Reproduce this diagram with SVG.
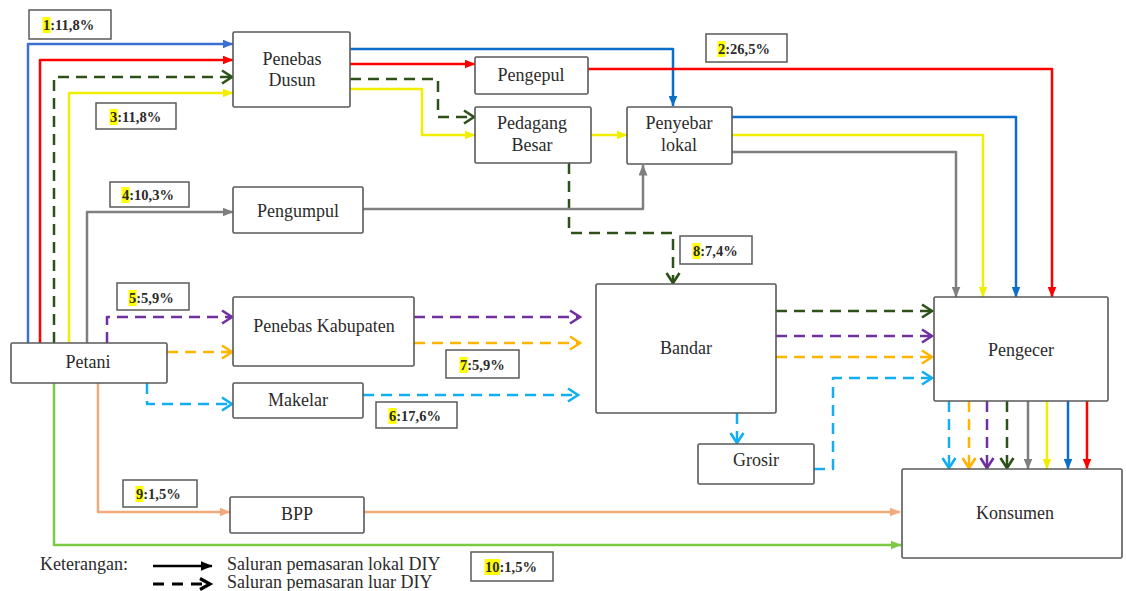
<svg xmlns="http://www.w3.org/2000/svg" width="1126" height="591" viewBox="0 0 1126 591">
<style>
.box{fill:#fff;stroke:#595959;stroke-width:1.6}
.nt{font-family:"Liberation Serif","Times New Roman",serif;font-size:18px;fill:#2b2b2b;text-anchor:middle}
.lg{font-family:"Liberation Serif","Times New Roman",serif;font-size:18px;fill:#2b2b2b}
.lb{font-family:"Liberation Serif","Times New Roman",serif;font-size:14.5px;font-weight:bold;fill:#2b2b2b}
.lbox{fill:#fff;stroke:#595959;stroke-width:1.5}
.hl{fill:#ffff00}
.c{fill:none;stroke-width:2.5;stroke-linejoin:round}
.d{stroke-dasharray:11 7}
.b1{stroke:#3b70d0;marker-end:url(#tb1)}
.b2{stroke:#0b6ec8;marker-end:url(#tb2)}
.r{stroke:#ff0000;marker-end:url(#tr)}
.y{stroke:#f2ee00;marker-end:url(#ty)}
.g{stroke:#7f7f7f;marker-end:url(#tg)}
.pc{stroke:#f4a97c;marker-end:url(#tp)}
.gr{stroke:#7cc944;marker-end:url(#tgr)}
.dg{stroke:#2c5219;marker-end:url(#cdg)}
.pu{stroke:#7030a0;marker-end:url(#cpu)}
.or{stroke:#ffb400;marker-end:url(#cor)}
.lbl{stroke:#12aef0;marker-end:url(#clb)}
</style>
<defs>
<marker id="tb1" markerUnits="userSpaceOnUse" viewBox="0 0 11 9" markerWidth="11" markerHeight="9" refX="10.5" refY="4.5" orient="auto"><path d="M0,0 L11,4.5 L0,9 z" fill="#3b70d0"/></marker>
<marker id="tb2" markerUnits="userSpaceOnUse" viewBox="0 0 11 9" markerWidth="11" markerHeight="9" refX="10.5" refY="4.5" orient="auto"><path d="M0,0 L11,4.5 L0,9 z" fill="#0b6ec8"/></marker>
<marker id="tr" markerUnits="userSpaceOnUse" viewBox="0 0 11 9" markerWidth="11" markerHeight="9" refX="10.5" refY="4.5" orient="auto"><path d="M0,0 L11,4.5 L0,9 z" fill="#ff0000"/></marker>
<marker id="ty" markerUnits="userSpaceOnUse" viewBox="0 0 11 9" markerWidth="11" markerHeight="9" refX="10.5" refY="4.5" orient="auto"><path d="M0,0 L11,4.5 L0,9 z" fill="#f2ee00"/></marker>
<marker id="tg" markerUnits="userSpaceOnUse" viewBox="0 0 11 9" markerWidth="11" markerHeight="9" refX="10.5" refY="4.5" orient="auto"><path d="M0,0 L11,4.5 L0,9 z" fill="#7f7f7f"/></marker>
<marker id="tp" markerUnits="userSpaceOnUse" viewBox="0 0 11 9" markerWidth="11" markerHeight="9" refX="10.5" refY="4.5" orient="auto"><path d="M0,0 L11,4.5 L0,9 z" fill="#f4a97c"/></marker>
<marker id="tgr" markerUnits="userSpaceOnUse" viewBox="0 0 11 9" markerWidth="11" markerHeight="9" refX="10.5" refY="4.5" orient="auto"><path d="M0,0 L11,4.5 L0,9 z" fill="#7cc944"/></marker>
<marker id="tk" markerUnits="userSpaceOnUse" viewBox="0 0 12 10" markerWidth="12" markerHeight="10" refX="11.5" refY="5" orient="auto"><path d="M0,0 L12,5 L0,10 z" fill="#000"/></marker>
<marker id="cdg" markerUnits="userSpaceOnUse" viewBox="-2 -2 14 17" markerWidth="14" markerHeight="17" refX="10" refY="6.5" orient="auto" overflow="visible"><path d="M0,0 L10,6.5 L0,13" fill="none" stroke="#2c5219" stroke-width="2.6"/></marker>
<marker id="cpu" markerUnits="userSpaceOnUse" viewBox="-2 -2 14 17" markerWidth="14" markerHeight="17" refX="10" refY="6.5" orient="auto" overflow="visible"><path d="M0,0 L10,6.5 L0,13" fill="none" stroke="#7030a0" stroke-width="2.6"/></marker>
<marker id="cor" markerUnits="userSpaceOnUse" viewBox="-2 -2 14 17" markerWidth="14" markerHeight="17" refX="10" refY="6.5" orient="auto" overflow="visible"><path d="M0,0 L10,6.5 L0,13" fill="none" stroke="#ffb400" stroke-width="2.6"/></marker>
<marker id="clb" markerUnits="userSpaceOnUse" viewBox="-2 -2 14 17" markerWidth="14" markerHeight="17" refX="10" refY="6.5" orient="auto" overflow="visible"><path d="M0,0 L10,6.5 L0,13" fill="none" stroke="#12aef0" stroke-width="2.6"/></marker>
<marker id="ck" markerUnits="userSpaceOnUse" viewBox="-2 -2 14 15" markerWidth="14" markerHeight="15" refX="10" refY="5.5" orient="auto" overflow="visible"><path d="M0,0 L10,5.5 L0,11" fill="none" stroke="#000" stroke-width="3.2"/></marker>
</defs>

<g id="connectors">
<path class="c b1" d="M28,343 V44 H233"/>
<path class="c r" d="M40,343 V60 H233"/>
<path class="c d dg" d="M54,343 V77 H232"/>
<path class="c y" d="M69,343 V93 H233"/>
<path class="c g" d="M87,343 V212 H233"/>
<path class="c d pu" d="M107,343 V317 H232"/>
<path class="c d or" d="M167,352 H232"/>
<path class="c d lbl" d="M147,383 V404 H232"/>
<path class="c pc" d="M98,383 V512 H230"/>
<path class="c gr" d="M54,383 V545 H901"/>
<path class="c b2" d="M350,49 H673 V106"/>
<path class="c r" d="M350,64 H475"/>
<path class="c d dg" d="M350,79 H438 V117 H474"/>
<path class="c y" d="M350,89 H422 V135 H475"/>
<path class="c r" d="M588,69 H1052 V297"/>
<path class="c y" d="M591,135 H627"/>
<path class="c d dg" d="M569,163 V233 H673 V283"/>
<path class="c g" d="M363,209 H643 V165"/>
<path class="c b2" d="M732,117 H1016 V297"/>
<path class="c y" d="M732,135 H983 V297"/>
<path class="c g" d="M732,152 H956 V297"/>
<path class="c d pu" d="M414,317 H580"/>
<path class="c d or" d="M414,343 H580"/>
<path class="c d lbl" d="M363,395 H578"/>
<path class="c d dg" d="M776,311 H932"/>
<path class="c d pu" d="M776,336 H932"/>
<path class="c d or" d="M776,357 H932"/>
<path class="c d lbl" d="M737,413 V443"/>
<path class="c d lbl" d="M814,469 H833 V378 H932"/>
<path class="c pc" d="M364,512 H900"/>
<path class="c d lbl" d="M949,401 V468"/>
<path class="c d or" d="M969,401 V468"/>
<path class="c d pu" d="M987,401 V468"/>
<path class="c d dg" d="M1007,401 V468"/>
<path class="c g" d="M1028,401 V469"/>
<path class="c y" d="M1047,401 V469"/>
<path class="c b2" d="M1068,401 V469"/>
<path class="c r" d="M1087,401 V469"/>
</g>

<g id="petani"><rect class="box" x="11" y="343" width="156" height="40" rx="1.5"/><text class="nt" x="88" y="368">Petani</text></g>
<g id="penebas-dusun"><rect class="box" x="233" y="32" width="117" height="75" rx="1.5"/><text class="nt" x="292" y="65">Penebas</text><text class="nt" x="292" y="86">Dusun</text></g>
<g id="pengepul"><rect class="box" x="475" y="57" width="113" height="37" rx="1.5"/><text class="nt" x="531" y="81">Pengepul</text></g>
<g id="pedagang-besar"><rect class="box" x="475" y="107" width="116" height="56" rx="1.5"/><text class="nt" x="532" y="129">Pedagang</text><text class="nt" x="532" y="151">Besar</text></g>
<g id="penyebar-lokal"><rect class="box" x="627" y="107" width="105" height="57" rx="1.5"/><text class="nt" x="679" y="129">Penyebar</text><text class="nt" x="679" y="151">lokal</text></g>
<g id="pengumpul"><rect class="box" x="233" y="187" width="130" height="46" rx="1.5"/><text class="nt" x="298" y="217">Pengumpul</text></g>
<g id="penebas-kabupaten"><rect class="box" x="233" y="297" width="181" height="69" rx="1.5"/><text class="nt" x="324" y="332">Penebas Kabupaten</text></g>
<g id="makelar"><rect class="box" x="233" y="383" width="130" height="35" rx="1.5"/><text class="nt" x="298" y="406">Makelar</text></g>
<g id="bpp"><rect class="box" x="230" y="497" width="134" height="36" rx="1.5"/><text class="nt" x="297" y="520">BPP</text></g>
<g id="bandar"><rect class="box" x="596" y="284" width="180" height="129" rx="1.5"/><text class="nt" x="686" y="354">Bandar</text></g>
<g id="grosir"><rect class="box" x="698" y="444" width="116" height="40" rx="1.5"/><text class="nt" x="756" y="466">Grosir</text></g>
<g id="pengecer"><rect class="box" x="934" y="297" width="174" height="104" rx="1.5"/><text class="nt" x="1021" y="356">Pengecer</text></g>
<g id="konsumen"><rect class="box" x="902" y="469" width="220" height="89" rx="1.5"/><text class="nt" x="1015" y="519">Konsumen</text></g>

<g id="labels">
<rect class="lbox" x="29" y="10" width="82" height="29"/><rect class="hl" x="42.5" y="17" width="8" height="16"/><text class="lb" x="43" y="30">1:11,8%</text>
<rect class="lbox" x="706" y="34" width="81" height="28"/><rect class="hl" x="717.5" y="41" width="8" height="16"/><text class="lb" x="718" y="54">2:26,5%</text>
<rect class="lbox" x="96" y="103" width="80" height="26"/><rect class="hl" x="109.5" y="109" width="8" height="16"/><text class="lb" x="110" y="122">3:11,8%</text>
<rect class="lbox" x="110" y="182" width="79" height="25"/><rect class="hl" x="121.5" y="187" width="8" height="16"/><text class="lb" x="122" y="200">4:10,3%</text>
<rect class="lbox" x="117" y="283" width="72" height="27"/><rect class="hl" x="128.5" y="290" width="8" height="16"/><text class="lb" x="129" y="303">5:5,9%</text>
<rect class="lbox" x="376" y="402" width="81" height="26"/><rect class="hl" x="388.5" y="408" width="8" height="16"/><text class="lb" x="389" y="421">6:17,6%</text>
<rect class="lbox" x="446" y="350" width="73" height="28"/><rect class="hl" x="459.5" y="357" width="8" height="16"/><text class="lb" x="460" y="370">7:5,9%</text>
<rect class="lbox" x="680" y="236" width="72" height="28"/><rect class="hl" x="692.5" y="243" width="8" height="16"/><text class="lb" x="693" y="256">8:7,4%</text>
<rect class="lbox" x="123" y="480" width="74" height="27"/><rect class="hl" x="135.5" y="486" width="8" height="16"/><text class="lb" x="136" y="499">9:1,5%</text>
<rect class="lbox" x="471" y="552" width="82" height="29"/><rect class="hl" x="484.5" y="559" width="15.5" height="16"/><text class="lb" x="485" y="572">10:1,5%</text>
</g>

<g id="legend">
<text class="lg" x="40" y="570">Keterangan:</text>
<path d="M153,566 H212" stroke="#000" stroke-width="2.5" fill="none" marker-end="url(#tk)"/>
<path d="M153,584 H210" stroke="#000" stroke-width="3" stroke-dasharray="11 8" fill="none" marker-end="url(#ck)"/>
<text class="lg" x="227" y="570">Saluran pemasaran lokal DIY</text>
<text class="lg" x="227" y="588">Saluran pemasaran luar DIY</text>
</g>
</svg>
